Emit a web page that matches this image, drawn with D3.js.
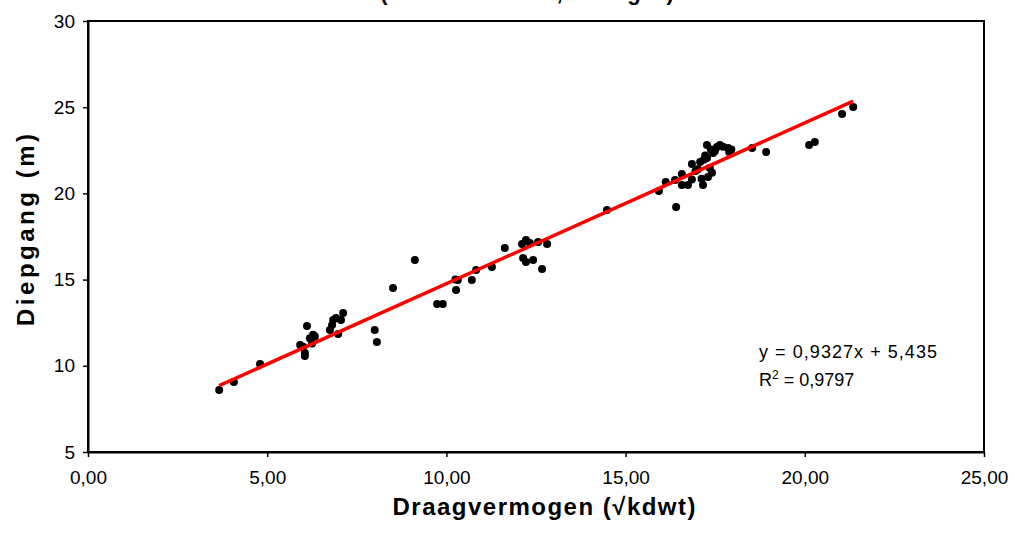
<!DOCTYPE html>
<html>
<head>
<meta charset="utf-8">
<script src="https://cdn.jsdelivr.net/npm/d3@7"></script>
<style>
  body { margin: 0; background: #fff; }
  text { font-family: Arial, "Liberation Sans", sans-serif; }
</style>
</head>
<body>
<svg width="1015" height="533"></svg>
<script>
// draagvermogen (sqrt kdwt)
const xWaarden = [3.66, 4.07, 4.80, 5.92, 6.00, 6.05, 6.05, 6.11, 6.19, 6.28, 6.33, 6.25,
  6.75, 6.81, 6.84, 6.92, 6.98, 7.06, 7.12, 8.00, 8.06, 8.51, 9.12, 9.74, 9.90,
  10.27, 10.32, 10.25, 10.71, 10.83, 11.27, 11.63, 12.11, 12.22, 12.33, 12.56, 12.81,
  12.14, 12.22, 12.42, 12.67, 14.48, 15.93, 16.12, 16.41, 16.38, 16.57, 16.74, 16.57,
  16.85, 16.85, 17.08, 17.16, 17.27, 17.27, 17.35, 17.30, 17.41, 17.44, 17.55, 17.63,
  17.86, 17.89, 17.02, 17.18, 17.22, 17.38, 17.49, 17.72, 17.95, 16.95, 17.12,
  18.53, 18.92, 20.12, 20.28, 21.04, 21.35];
// diepgang (m)
const yWaarden = [8.60, 9.06, 10.10, 11.20, 11.10, 10.74, 10.57, 12.31, 11.60, 11.80, 11.70, 11.30,
  12.08, 12.37, 12.66, 12.77, 11.84, 12.66, 13.06, 12.08, 11.38, 14.51, 16.14, 13.58, 13.58,
  14.40, 14.98, 15.00, 14.98, 15.56, 15.73, 16.83, 17.06, 17.30, 17.12, 17.18, 17.06,
  16.25, 16.02, 16.14, 15.62, 19.04, 20.14, 20.66, 19.21, 20.78, 20.49, 20.49, 21.12,
  21.70, 20.80, 21.82, 20.49, 22.81, 22.05, 21.47, 20.95, 21.20, 22.34, 22.69, 22.81,
  22.63, 22.40, 21.40, 21.95, 22.20, 22.55, 22.45, 22.70, 22.55, 21.30, 20.85,
  22.63, 22.40, 22.81, 22.98, 24.61, 25.01];

const helling = 0.9327, intercept = 5.435;
const xTicks = [0, 5, 10, 15, 20, 25];
const yTicks = [5, 10, 15, 20, 25, 30];

const punten = xWaarden.map((x, i) => ({x: x, y: yWaarden[i]}));

const svg = d3.select("svg");
const links = 88, rechts = 984, boven = 21, onder = 452;

const x = d3.scaleLinear().domain([0, 25]).range([links, rechts]);
const y = d3.scaleLinear().domain([5, 30]).range([onder, boven]);
const komma = d => d3.format(".2f")(d).replace(".", ",");

// titel (valt grotendeels buiten beeld, zoals in het origineel)
svg.append("text")
  .attr("x", 527).attr("y", 0)
  .attr("text-anchor", "middle")
  .style("font-size", "22px").style("font-weight", "bold")
  .text("(alle bulkcarriers, metingen)");

// kader
svg.append("rect")
  .attr("x", links).attr("y", boven)
  .attr("width", rechts - links).attr("height", onder - boven)
  .style("fill", "none").style("stroke", "#000").style("stroke-width", 2);

// assen
const xAs = svg.append("g")
  .attr("transform", `translate(0,${onder})`)
  .call(d3.axisBottom(x).tickValues(xTicks).tickFormat(komma).tickSizeInner(5).tickSizeOuter(0).tickPadding(14));
const yAs = svg.append("g")
  .attr("transform", `translate(${links},0)`)
  .call(d3.axisLeft(y).tickValues(yTicks).tickSizeInner(5).tickSizeOuter(0).tickPadding(8));

[xAs, yAs].forEach(a => {
  a.select(".domain").style("stroke", "#000").style("stroke-width", 2);
  a.selectAll(".tick line").style("stroke", "#000").style("stroke-width", 1.5);
  a.selectAll(".tick text")
    .style("font-size", "19px").style("fill", "#000")
    .style("font-family", "Arial, 'Liberation Sans', sans-serif");
});

// punten
svg.selectAll(".punt")
  .data(punten)
  .join("circle")
  .attr("class", "punt")
  .attr("cx", d => x(d.x))
  .attr("cy", d => y(d.y))
  .attr("r", 4)
  .style("fill", "#000");

// trendlijn
const xMin = d3.min(xWaarden), xMax = d3.max(xWaarden);
svg.append("line")
  .attr("x1", x(xMin)).attr("y1", y(helling * xMin + intercept))
  .attr("x2", x(xMax)).attr("y2", y(helling * xMax + intercept))
  .style("stroke", "#ff0000").style("stroke-width", 3.5);

// vergelijking
svg.append("text")
  .attr("x", 759).attr("y", 358)
  .attr("textLength", 178).attr("lengthAdjust", "spacing")
  .style("font-size", "18px")
  .text("y = 0,9327x + 5,435");
const r2 = svg.append("text")
  .attr("x", 759).attr("y", 386)
  .style("font-size", "18px");
r2.append("tspan").text("R");
r2.append("tspan").attr("dy", -7).style("font-size", "12px").text("2");
r2.append("tspan").attr("dy", 7).text(" = 0,9797");

// astitels
svg.append("text")
  .attr("x", 544).attr("y", 515)
  .attr("text-anchor", "middle")
  .attr("textLength", 303).attr("lengthAdjust", "spacing")
  .style("font-size", "24px").style("font-weight", "bold")
  .text("Draagvermogen (\u221Akdwt)");

svg.append("text")
  .attr("transform", "translate(34,230) rotate(-90)")
  .attr("text-anchor", "middle")
  .attr("textLength", 192).attr("lengthAdjust", "spacing")
  .style("font-size", "24px").style("font-weight", "bold")
  .text("Diepgang (m)");
</script>
</body>
</html>
